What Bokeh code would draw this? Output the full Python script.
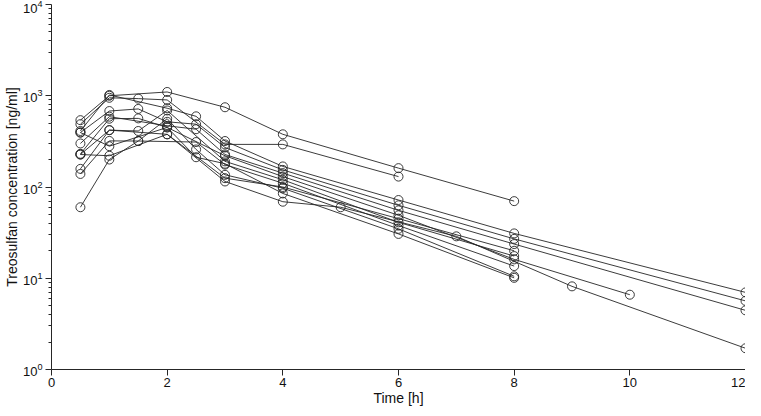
from bokeh.plotting import figure
from bokeh.models import FixedTicker, LogTickFormatter, Range1d
from bokeh.embed import file_html
from bokeh.resources import INLINE

# ---- data ----
x_ticks = [0, 2, 4, 6, 8, 10, 12]
y_ticks = [1, 10, 100, 1000, 10000]
y_minor = [m * d for d in [1, 10, 100, 1000] for m in range(2, 10)]

subj_a_t = [0.5, 1, 2, 3, 4, 6, 8]
subj_a_c = [540, 1000, 1100, 748, 378, 161, 70]
subj_b_t = [0.5, 1, 1.5, 2, 3, 4, 6]
subj_b_c = [488, 950, 930, 900, 293, 293, 130]
subj_c_t = [0.5, 1, 2, 2.5, 3, 4, 6, 8, 12]
subj_c_c = [411, 1020, 730, 595, 319, 168, 72, 31, 7.0]
subj_d_t = [0.5, 1, 1.5, 2, 2.5, 3, 4, 6, 8, 12]
subj_d_c = [395, 680, 717, 518, 488, 271, 154, 63, 27, 5.65]
subj_e_t = [0.5, 1, 2, 2.5, 3, 4, 6, 8, 12]
subj_e_c = [300, 590, 468, 430, 227, 142, 55.5, 23.7, 4.45]
subj_f_t = [0.5, 1, 1.5, 2, 3, 4, 6, 8, 10]
subj_f_c = [231, 560, 565, 450, 220, 130, 49, 16.1, 6.6]
subj_g_t = [0.5, 1, 2, 3, 4, 5, 7, 9, 12]
subj_g_c = [227, 420, 378, 115, 69, 60, 28.8, 8.15, 1.71]
subj_h_t = [0.5, 1, 1.5, 2, 3, 4, 6, 8]
subj_h_c = [158, 420, 411, 690, 191, 120, 41, 17.5]
subj_i_t = [0.5, 1, 1.5, 2.5, 3, 4, 6, 8]
subj_i_c = [139, 320, 319, 311, 176, 110, 37.8, 13.6]
subj_j_t = [0.5, 1, 1.5, 2, 2.5, 3, 4, 6, 8]
subj_j_c = [60, 200, 319, 560, 258, 136, 97, 34.8, 10.5]
subj_k_t = [0.5, 1, 2, 2.5, 3, 4, 6, 8]
subj_k_c = [395, 280, 450, 212, 180, 85, 30.6, 10.1]
subj_l_t = [0.5, 1, 2, 3, 4, 6, 8]
subj_l_c = [227, 220, 378, 125, 100, 45, 20]

subjects = [
    (subj_a_t, subj_a_c), (subj_b_t, subj_b_c), (subj_c_t, subj_c_c),
    (subj_d_t, subj_d_c), (subj_e_t, subj_e_c), (subj_f_t, subj_f_c),
    (subj_g_t, subj_g_c), (subj_h_t, subj_h_c), (subj_i_t, subj_i_c),
    (subj_j_t, subj_j_c), (subj_k_t, subj_k_c), (subj_l_t, subj_l_c),
]

FONT = "Liberation Sans"
INK = "#262626"

p = figure(width=745, height=408, output_backend="svg", toolbar_location=None,
           y_axis_type="log", x_range=Range1d(0, 12), y_range=Range1d(1, 10000),
           min_border_left=0, min_border_right=0, min_border_top=4, min_border_bottom=0)

for t, c in subjects:
    p.line(t, c, line_color=INK, line_width=0.9)
    p.scatter(t, c, marker="circle", size=9, fill_alpha=0, line_color=INK, line_width=0.9)

p.outline_line_color = None
p.xgrid.grid_line_color = None
p.ygrid.grid_line_color = None

xa = p.xaxis[0]
xa.ticker = FixedTicker(ticks=x_ticks)
xa.axis_label = "Time [h]"
xa.major_tick_out = 6
xa.major_tick_in = 0
xa.major_label_standoff = 2
xa.axis_label_standoff = 0

ya = p.yaxis[0]
ya.ticker = FixedTicker(ticks=y_ticks, minor_ticks=y_minor)
ya.formatter = LogTickFormatter()
ya.axis_label = "Treosulfan concentration [ng/ml]"
ya.major_tick_out = 6
ya.major_tick_in = 0
ya.minor_tick_out = 3
ya.minor_tick_in = 0
ya.major_label_standoff = 3
ya.axis_label_standoff = 0

for ax in (xa, ya):
    ax.axis_line_color = INK
    ax.major_tick_line_color = INK
    ax.minor_tick_line_color = INK if ax is ya else None
    ax.major_label_text_font = FONT
    ax.major_label_text_font_size = "13px"
    ax.major_label_text_color = "#111111"
    ax.axis_label_text_font = FONT
    ax.axis_label_text_font_size = "14px"
    ax.axis_label_text_font_style = "normal"
    ax.axis_label_text_color = "#111111"

open("out.html", "w").write(file_html(p, INLINE))
